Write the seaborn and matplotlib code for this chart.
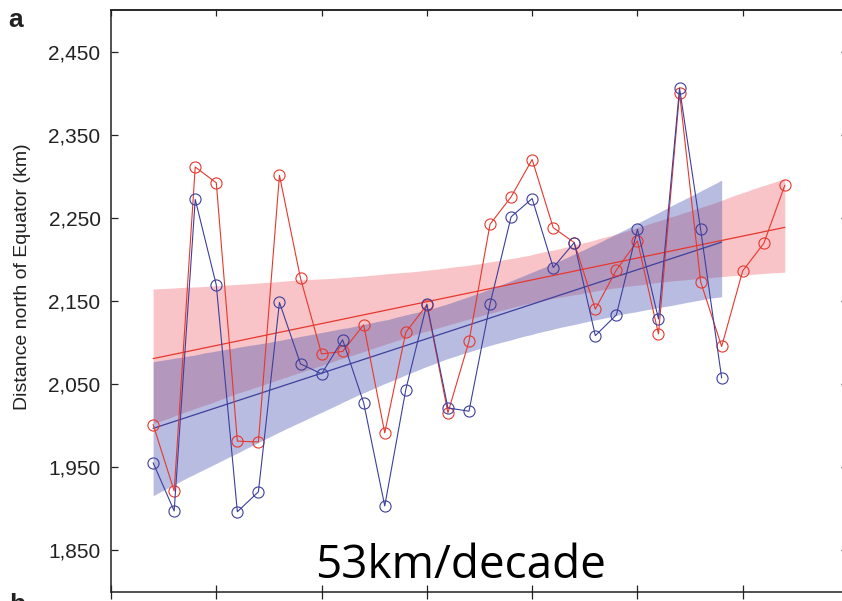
import matplotlib
matplotlib.use("Agg")
import matplotlib.pyplot as plt
import seaborn as sns
import numpy as np
import pandas as pd
from matplotlib.ticker import FixedLocator, FuncFormatter

# Best-track record (1982-2012) and ADT-HURSAT record (1982-2009)
years_bt = list(range(1982, 2013))
dist_bt = [2001, 1921, 2311, 2292, 1981, 1980, 2301, 2177, 2086, 2089,
           2121, 1991, 2112, 2145, 2015, 2101, 2242, 2275, 2320, 2238,
           2220, 2140, 2187, 2222, 2110, 2400, 2173, 2095, 2186, 2219,
           2289]

years_adt = list(range(1982, 2010))
dist_adt = [1955, 1897, 2272, 2169, 1896, 1920, 2148, 2074, 2062, 2103,
            2027, 1903, 2043, 2146, 2021, 2017, 2146, 2251, 2273, 2190,
            2220, 2108, 2133, 2236, 2128, 2406, 2236, 2057]

y_ticks = [1850, 1950, 2050, 2150, 2250, 2350, 2450]
x_ticks = [1980, 1985, 1990, 1995, 2000, 2005, 2010, 2015]

RED = "#e8372c"
BLUE = "#3d3f9c"
RED_BAND = (235 / 255, 60 / 255, 70 / 255)
BLUE_BAND = (70 / 255, 80 / 255, 175 / 255)
INK = "#222222"

bt = pd.DataFrame({"year": years_bt, "dist": dist_bt})
adt = pd.DataFrame({"year": years_adt, "dist": dist_adt})

sns.set_style("ticks")
plt.rcParams["font.family"] = ["Liberation Sans", "DejaVu Sans"]

fig = plt.figure(figsize=(8.42, 6.01), dpi=100)
W, H = 842, 601
ax = fig.add_axes([111 / W, (H - 591.5) / H, 737 / W, 581.5 / H])

# trend lines with 90% confidence bands
sns.regplot(data=bt, x="year", y="dist", scatter=False, ci=90, n_boot=4000,
            seed=7, color=RED, line_kws={"lw": 0.9}, ax=ax)
band = ax.collections[-1]
band.set_facecolor(RED_BAND)
band.set_alpha(0.30)
band.set_linewidth(0)
sns.regplot(data=adt, x="year", y="dist", scatter=False, ci=90, n_boot=4000,
            seed=7, color=BLUE, line_kws={"lw": 0.9}, ax=ax)
band = ax.collections[-1]
band.set_facecolor(BLUE_BAND)
band.set_alpha(0.38)
band.set_linewidth(0)

# yearly series
sns.lineplot(data=bt, x="year", y="dist", color=RED, lw=0.8, marker="o",
             markersize=8, markerfacecolor="none", markeredgecolor=RED,
             markeredgewidth=0.8, ax=ax)
sns.lineplot(data=adt, x="year", y="dist", color=BLUE, lw=0.8, marker="o",
             markersize=8, markerfacecolor="none", markeredgecolor=BLUE,
             markeredgewidth=0.8, ax=ax)

ax.set_xlim(1980, 2015)
ax.set_ylim(1800, 2500)
ax.set_xlabel("")
ax.set_ylabel("Distance north of Equator (km)", fontsize=14, color=INK)
ax.yaxis.set_label_coords(-0.108, 0.542)

ax.yaxis.set_major_locator(FixedLocator(y_ticks))
ax.yaxis.set_major_formatter(FuncFormatter(lambda v, p: f"{int(v):,}"))
ax.xaxis.set_major_locator(FixedLocator(x_ticks))

for s in ax.spines.values():
    s.set_linewidth(1.1)
    s.set_color(INK)
    s.set_visible(True)

ax.tick_params(axis="y", direction="in", length=5, width=0.9, colors=INK,
               left=True, right=True, labelsize=15, pad=7.5)
ax.tick_params(axis="x", direction="inout", length=10, width=0.9,
               colors=INK, bottom=True, top=False, labelbottom=False)

top = ax.secondary_xaxis("top")
top.xaxis.set_major_locator(FixedLocator(x_ticks))
top.tick_params(direction="in", length=4, width=0.9, colors=INK,
                labeltop=False)
top.spines["top"].set_linewidth(1.1)
top.spines["top"].set_color(INK)

fig.text(315 / W, (H - 578) / H, "53km/decade", fontsize=33,
         family=["Open Sans", "DejaVu Sans"], color="black",
         ha="left", va="baseline")

fig.text(8 / W, (H - 8) / H, "a", fontsize=19, fontweight="bold",
         color=INK, ha="left", va="top")
fig.text(9 / W, (H - 593) / H, "b", fontsize=19, fontweight="bold",
         color=INK, ha="left", va="top")

fig.savefig("out.png", dpi=100)
